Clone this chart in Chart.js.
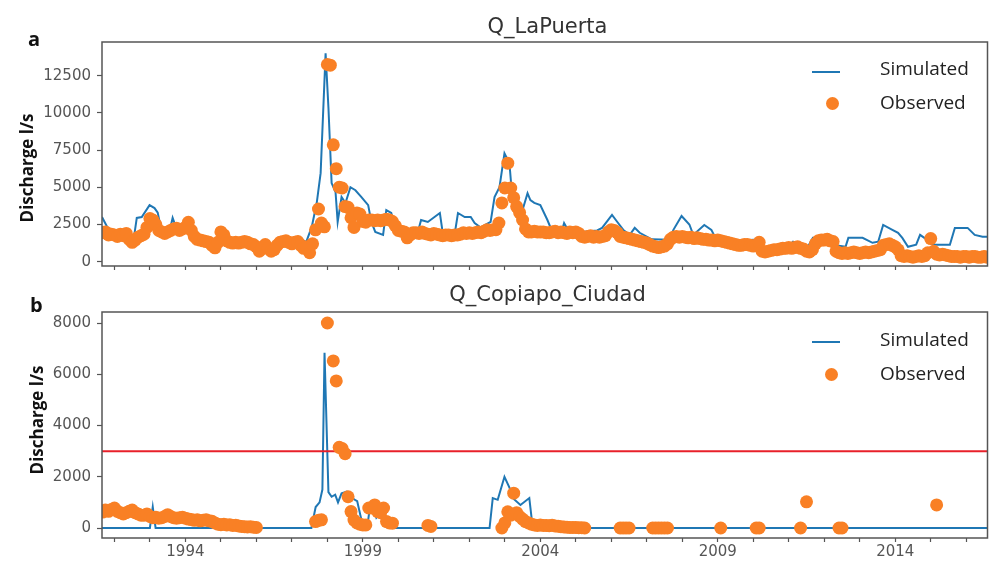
<!DOCTYPE html>
<html>
<head>
<meta charset="utf-8">
<script src="https://cdn.jsdelivr.net/npm/chart.js@4.4.1/dist/chart.umd.min.js"></script>
<style>
    body { margin: 0; background: #fff; }
    #wrap { position: relative; width: 994px; height: 562px; overflow: hidden; font-family: "Open Sans", sans-serif; }
    .panel { position: absolute; left: 0; width: 994px; height: 281px; }
    .title { position: absolute; left: 102px; width: 891px; text-align: center; font-family: "DejaVu Sans", sans-serif; font-size: 21px; color: #333; line-height: 26px; }
    .letter { position: absolute; font-weight: bold; font-size: 20px; color: #111; line-height: 24px; }
    .ylab { position: absolute; font-weight: bold; font-size: 17px; color: #111; white-space: nowrap; transform: translate(-50%, -50%) rotate(-90deg); }
    .legline { position: absolute; width: 28px; height: 2px; background: #1f77b4; }
    .legdot { position: absolute; width: 13px; height: 13px; border-radius: 50%; background: #f98025; }
    .legtxt { position: absolute; font-size: 19px; color: #222; line-height: 24px; }
</style>
</head>
<body>
<div id="wrap">
    <div class="panel" style="top:0"><canvas id="chartA" width="994" height="281"></canvas></div>
    <div class="panel" style="top:281px"><canvas id="chartB" width="994" height="281"></canvas></div>

    <div class="letter" style="left:28px; top:27px">a</div>
    <div class="letter" style="left:30px; top:293px">b</div>
    <div class="title" style="top:13px">Q_LaPuerta</div>
    <div class="title" style="top:281px">Q_Copiapo_Ciudad</div>
    <div class="ylab" style="left:26px; top:168px">Discharge l/s</div>
    <div class="ylab" style="left:36px; top:420px">Discharge l/s</div>

    <div class="legline" style="left:812px; top:71px"></div>
    <div class="legtxt" style="left:880px; top:56px">Simulated</div>
    <div class="legdot" style="left:826px; top:97px"></div>
    <div class="legtxt" style="left:880px; top:90px">Observed</div>

    <div class="legline" style="left:812px; top:341px"></div>
    <div class="legtxt" style="left:880px; top:327px">Simulated</div>
    <div class="legdot" style="left:825px; top:368px"></div>
    <div class="legtxt" style="left:880px; top:361px">Observed</div>
</div>
<script>
const X_MIN = 1991.65;
const X_MAX = 2016.6;
const yearTicks = [1992, 1993, 1994, 1995, 1996, 1997, 1998, 1999, 2000, 2001, 2002, 2003, 2004,
    2005, 2006, 2007, 2008, 2009, 2010, 2011, 2012, 2013, 2014, 2015, 2016];
const labelYears = [1994, 1999, 2004, 2009, 2014];
const ticksA = [0, 2500, 5000, 7500, 10000, 12500];
const ticksB = [0, 2000, 4000, 6000, 8000];
const THRESHOLD_B = 3000;

// Q_LaPuerta simulated (year, l/s)
const simAX = [1991.65, 1991.87, 1992.15, 1992.35, 1992.54, 1992.63, 1992.77, 1992.99, 1993.13, 1993.22, 1993.33,
    1993.55, 1993.64, 1993.75, 1993.97, 1994.2, 1994.4, 1994.7, 1994.9, 1995.1, 1995.4, 1995.7, 1996.0, 1996.3,
    1996.6, 1996.9, 1997.19, 1997.4, 1997.56, 1997.7, 1997.81, 1997.95, 1998.03, 1998.12, 1998.23, 1998.29,
    1998.4, 1998.51, 1998.65, 1998.79, 1998.96, 1999.15, 1999.24, 1999.35, 1999.57, 1999.66, 1999.8, 1999.91,
    2000.13, 2000.55, 2000.64, 2000.83, 2001.17, 2001.25, 2001.59, 2001.68, 2001.87, 2002.04, 2002.15, 2002.32,
    2002.6, 2002.71, 2002.85, 2002.99, 2003.13, 2003.22, 2003.3, 2003.44, 2003.64, 2003.72, 2003.83, 2004.0,
    2004.2, 2004.39, 2004.56, 2004.67, 2004.81, 2005.18, 2005.6, 2005.74, 2006.02, 2006.16, 2006.35, 2006.52,
    2006.66, 2006.8, 2007.14, 2007.64, 2007.75, 2007.98, 2008.2, 2008.31, 2008.62, 2008.82, 2008.96, 2009.5,
    2010.0, 2010.16, 2010.92, 2011.12, 2011.54, 2011.68, 2012.04, 2012.32, 2012.6, 2012.68, 2013.08, 2013.36,
    2013.52, 2013.66, 2013.92, 2014.08, 2014.2, 2014.36, 2014.59, 2014.7, 2014.9, 2015.06, 2015.54, 2015.68,
    2016.04, 2016.24, 2016.46, 2016.6];
const simAY = [3000, 2000, 1800, 1700, 1470, 2940, 3000, 3800, 3600, 3300, 2000,
    2000, 2940, 2200, 2100, 2000, 1600, 1400, 1100, 1500, 1300, 1200, 1000, 1000,
    900, 1200, 1670, 1300, 2340, 3940, 5950, 14000, 10360, 5280, 4680, 2670,
    4340, 3940, 5000, 4800, 4340, 3800, 2670, 2000, 1800, 3470, 3270, 2300,
    2100, 2000, 2800, 2670, 3270, 1940, 1900, 3270, 3000, 3000, 2600, 2300,
    2670, 4340, 5000, 7290, 6620, 4000, 3270, 3000, 4600, 4140, 3950, 3800,
    2800, 1700, 1670, 2600, 2000, 2000, 2100, 2270, 3140, 2700, 2100, 1800,
    2270, 1940, 1500, 1470, 2140, 3070, 2500, 1800, 2470, 2140, 1470, 1400,
    1470, 800, 800, 1340, 1000, 1600, 1500, 1100, 1000, 1600, 1600, 1270,
    1340, 2470, 2140, 1940, 1600, 1000, 1140, 1800, 1470, 1140, 1140, 2270,
    2270, 1800, 1670, 1670];

// Q_LaPuerta observed, monthly rows Jan..Dec from 1991
const obsAStart = 1991;
const obsA = [
    [null, null, null, null, null, null, null, null, 1950, 2000, 1800, 1850],
    [1800, 1700, 1850, 1750, 1900, 1500, 1300, 1450, 1650, 1750, 1850, 2300],
    [2900, 2800, 2500, 2100, 2000, 1900, 2000, 2100, 2200, 2250, 2100, 2200],
    [2300, 2650, 2100, 1700, 1500, 1450, 1400, 1350, 1300, 1100, 930, 1300],
    [2000, 1800, 1400, 1300, 1250, 1300, 1250, 1300, 1350, 1300, 1200, 1150],
    [1000, 700, 900, 1150, 900, 700, 800, 1100, 1300, 1350, 1400, 1300],
    [1200, 1300, 1350, 1100, 900, 1000, 600, 1200, 2140, 3540, 2600, 2340],
    [13250, 13200, 7850, 6250, 5000, 4950, 3700, 3650, 2950, 2300, 3270, 3200],
    [2700, 2650, 2800, 2800, 2750, 2800, 2750, 2800, 2850, 2800, 2700, 2400],
    [2100, 2050, 2000, 1600, 1800, 1950, 1950, 1900, 2000, 1900, 1850, 1800],
    [1900, 1850, 1800, 1750, 1800, 1800, 1750, 1800, 1800, 1850, 1950, 1900],
    [1950, 1900, 1950, 2000, 1950, 2050, 2150, 2100, 2150, 2150, 2600, 3950],
    [4950, 6620, 4950, 4300, 3700, 3300, 2800, 2200, 2000, 2000, 2050, 2000],
    [2000, 2000, 1950, 1950, 2000, 2050, 1950, 2000, 1950, 1900, 2000, 1950],
    [2000, 1900, 1700, 1650, 1700, 1750, 1650, 1700, 1650, 1700, 1750, 2000],
    [2150, 2100, 1950, 1700, 1650, 1600, 1550, 1500, 1450, 1400, 1350, 1300],
    [1250, 1150, 1050, 1000, 950, 1000, 1050, 1200, 1500, 1650, 1700, 1650],
    [1700, 1650, 1600, 1650, 1550, 1600, 1550, 1500, 1500, 1450, 1450, 1400],
    [1450, 1400, 1350, 1300, 1250, 1200, 1150, 1100, 1100, 1150, 1150, 1100],
    [1050, 1100, 1300, 700, 650, 700, 750, 800, 800, 850, 900, 900],
    [950, 900, 950, 1000, 900, 850, 700, 650, 800, 1200, 1400, 1450],
    [1450, 1500, 1400, 1350, 700, 600, 550, 600, 550, 600, 650, 600],
    [550, 600, 650, 600, 650, 700, 750, 800, 1100, 1150, 1200, 1100],
    [1000, 800, 400, 350, 400, 350, 300, 350, 400, 350, 400, 600],
    [1550, 700, 500, 450, 500, 450, 400, 350, 350, 350, 300, 350],
    [350, 300, 350, 350, 300, 300, 350, 300]
];

// Q_Copiapo_Ciudad simulated (year, l/s)
const simBX = [1991.65, 1993.0, 1993.08, 1993.16, 1997.55, 1997.67, 1997.78, 1997.86, 1997.92, 1998.03, 1998.12,
    1998.22, 1998.3, 1998.4, 1998.55, 1998.65, 1998.75, 1998.84, 1998.96, 1999.05, 1999.12, 1999.2, 1999.3,
    1999.38, 1999.5, 1999.6, 1999.7, 2002.57, 2002.66, 2002.8, 2002.99, 2003.13, 2003.22, 2003.44, 2003.69,
    2003.77, 2003.85, 2016.6];
const simBY = [0, 0, 820, 0, 0, 820, 1000, 1500, 6840, 1400, 1220,
    1300, 1000, 1350, 1420, 1300, 1120, 1050, 310, 0, 0, 820, 800,
    400, 600, 500, 0, 0, 1170, 1100, 2000, 1580, 1170, 900, 1170,
    200, 0, 0];

// Q_Copiapo_Ciudad observed, monthly rows Jan..Dec from 1991
const obsBStart = 1991;
const obsB = [
    [null, null, null, null, null, null, null, null, 620, 700, 650, 720],
    [780, 650, 600, 550, 600, 650, 700, 600, 550, 500, 500, 550],
    [450, 400, 420, 380, 400, 450, 520, 450, 400, 380, 400, 420],
    [380, 350, 330, 300, 320, 280, 300, 320, 280, 260, 200, 150],
    [130, 150, 120, 130, 100, 110, 80, 60, 50, 40, 50, 30],
    [20, null, null, null, null, null, null, null, null, null, null, null],
    [null, null, null, null, null, null, null, null, 250, 300, 320, null],
    [8000, null, 6520, 5740, 3150, 3100, 2900, 1220, 640, 310, 200, 150],
    [120, 120, 780, 780, 900, 640, 600, 780, 250, 200, 190, null],
    [null, null, null, null, null, null, null, null, null, null, 100, 60],
    [null, null, null, null, null, null, null, null, null, null, null, null],
    [null, null, null, null, null, null, null, null, null, null, null, 0],
    [200, 630, 500, 1360, 600, 450, 350, 250, 200, 150, 120, 100],
    [120, 100, 100, 90, 110, 80, 70, 50, 40, 30, 20, 20],
    [20, 10, 10, 0, null, null, null, null, null, null, null, null],
    [null, null, null, 0, 0, 0, 0, null, null, null, null, null],
    [null, null, 0, 0, 0, 0, 0, 0, null, null, null, null],
    [null, null, null, null, null, null, null, null, null, null, null, null],
    [null, 0, null, null, null, null, null, null, null, null, null, null],
    [null, 0, 0, null, null, null, null, null, null, null, null, null],
    [null, null, null, null, 0, null, 1020, null, null, null, null, null],
    [null, null, null, null, null, 0, 0, null, null, null, null, null],
    [null, null, null, null, null, null, null, null, null, null, null, null],
    [null, null, null, null, null, null, null, null, null, null, null, null],
    [null, null, 900, null, null, null, null, null, null, null, null, null]
];

const BLUE = "#1f77b4";
const ORANGE = "#f98025";
const RED = "#e8202a";
const AXIS = "#555";

function pairs(xs, ys) {
    return xs.map((x, i) => ({ x: x, y: ys[i] }));
}

function monthly(rows, startYear) {
    const pts = [];
    rows.forEach((row, r) => {
        row.forEach((v, m) => {
            if (v !== null) pts.push({ x: startYear + r + m / 12, y: v });
        });
    });
    return pts;
}

// draws the full box round the plot area
const framePlugin = {
    id: "frame",
    afterDraw(chart) {
        const { ctx, chartArea: a } = chart;
        ctx.save();
        ctx.strokeStyle = AXIS;
        ctx.lineWidth = 1.5;
        ctx.strokeRect(a.left, a.top, a.right - a.left, a.bottom - a.top);
        ctx.restore();
    }
};

function xScale(showLabels, height) {
    return {
        type: "linear",
        min: X_MIN,
        max: X_MAX,
        afterBuildTicks: axis => { axis.ticks = yearTicks.map(v => ({ value: v })); },
        afterFit: axis => { axis.height = height; },
        grid: { drawOnChartArea: false, drawTicks: true, tickLength: 4, tickColor: AXIS, tickWidth: 1.2 },
        border: { display: false },
        ticks: {
            autoSkip: false,
            maxRotation: 0,
            padding: 1,
            color: AXIS,
            font: { family: "DejaVu Sans", size: 15 },
            callback: v => (showLabels && labelYears.includes(v)) ? String(v) : ""
        }
    };
}

function yScale(min, max, tickValues) {
    return {
        type: "linear",
        min: min,
        max: max,
        afterBuildTicks: axis => { axis.ticks = tickValues.map(v => ({ value: v })); },
        afterFit: axis => { axis.width = 70; },
        grid: { drawOnChartArea: false, drawTicks: true, tickLength: 5, tickColor: AXIS, tickWidth: 1.2 },
        border: { display: false },
        ticks: {
            padding: 6,
            color: AXIS,
            font: { family: "DejaVu Sans", size: 15 },
            callback: v => String(v)
        }
    };
}

function makeChart(canvasId, datasets, xs, ys, padTop) {
    return new Chart(document.getElementById(canvasId), {
        type: "scatter",
        data: { datasets: datasets },
        options: {
            responsive: false,
            animation: false,
            layout: { padding: { left: 32, right: 1, top: padTop, bottom: 0 } },
            plugins: { legend: { display: false }, tooltip: { enabled: false } },
            scales: { x: xs, y: ys }
        },
        plugins: [framePlugin]
    });
}

makeChart("chartA", [
    { label: "Observed", data: monthly(obsA, obsAStart), showLine: false, pointRadius: 6.5,
      pointBackgroundColor: ORANGE, pointBorderWidth: 0, order: 0 },
    { label: "Simulated", data: pairs(simAX, simAY), showLine: true, borderColor: BLUE, borderWidth: 2,
      pointRadius: 0, tension: 0, order: 2 }
], xScale(false, 14), yScale(-290, 14760, ticksA), 42);

makeChart("chartB", [
    { label: "Observed", data: monthly(obsB, obsBStart), showLine: false, pointRadius: 6.5,
      pointBackgroundColor: ORANGE, pointBorderWidth: 0, order: 0 },
    { label: "Threshold", data: [{ x: X_MIN, y: THRESHOLD_B }, { x: X_MAX, y: THRESHOLD_B }], showLine: true,
      borderColor: RED, borderWidth: 2, pointRadius: 0, order: 1 },
    { label: "Simulated", data: pairs(simBX, simBY), showLine: true, borderColor: BLUE, borderWidth: 2,
      pointRadius: 0, tension: 0, order: 2 }
], xScale(true, 24), yScale(-390, 8430, ticksB), 31);
</script>
</body>
</html>
